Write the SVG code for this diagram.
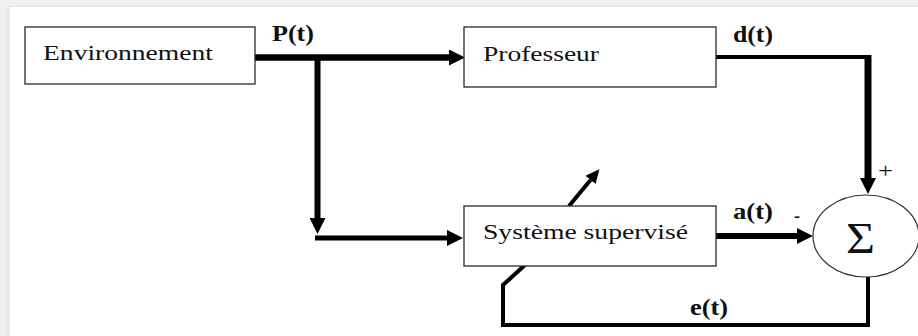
<svg xmlns="http://www.w3.org/2000/svg" width="918" height="336" viewBox="0 0 918 336">
  <style>
    .box { fill: #ffffff; stroke: #2a2a2a; stroke-width: 1.3; }
    .lbl { font-family: "Liberation Serif", "Times New Roman", serif; font-size: 22px; fill: #111; }
    .sig { font-family: "Liberation Serif", "Times New Roman", serif; font-weight: bold; font-size: 23px; fill: #111; }
    .wire { fill: none; stroke: #000; stroke-linejoin: miter; }
  </style>
  <defs>
    <marker id="ah" viewBox="0 -8 16 16" refX="0" refY="0" markerWidth="16" markerHeight="16" markerUnits="userSpaceOnUse" orient="auto">
      <path d="M0,-8 L16,0 L0,8 Z" fill="#000"/>
    </marker>
    <marker id="ahs" viewBox="0 -6.5 14 13" refX="0" refY="0" markerWidth="14" markerHeight="13" markerUnits="userSpaceOnUse" orient="auto">
      <path d="M0,-6.5 L14,0 L0,6.5 Z" fill="#000"/>
    </marker>
  </defs>

  <rect x="0" y="0" width="918" height="336" fill="#f0f0f0"/>
  <rect x="7" y="5" width="911" height="331" fill="#e8e8e8"/>
  <rect x="10" y="7" width="908" height="329" fill="#ffffff"/>

  <g id="connectors">
    <line class="wire" x1="255" y1="57.5" x2="449" y2="57.5" stroke-width="6.5" marker-end="url(#ah)"/>
    <line class="wire" x1="317.5" y1="55" x2="317.5" y2="218" stroke-width="6" marker-end="url(#ah)"/>
    <line class="wire" x1="315" y1="238" x2="447" y2="238" stroke-width="5" marker-end="url(#ah)"/>
    <polyline class="wire" points="716,57 868,57" stroke-width="4"/>
    <line class="wire" x1="868" y1="55" x2="868" y2="178" stroke-width="7" marker-end="url(#ah)"/>
    <line class="wire" x1="716" y1="236" x2="797" y2="236" stroke-width="6" marker-end="url(#ah)"/>
    <polyline class="wire" points="868,277 868,325 503,325 503,285 526,264" stroke-width="4"/>
    <line class="wire" x1="569" y1="206" x2="590.5" y2="180" stroke-width="4" marker-end="url(#ahs)"/>
  </g>

  <g id="environnement">
    <rect class="box" x="25" y="27" width="230" height="57"/>
    <text class="lbl" x="43" y="60" textLength="170" lengthAdjust="spacingAndGlyphs">Environnement</text>
  </g>

  <g id="professeur">
    <rect class="box" x="464" y="27" width="252" height="60"/>
    <text class="lbl" x="483" y="61" textLength="116" lengthAdjust="spacingAndGlyphs">Professeur</text>
  </g>

  <g id="systeme">
    <rect class="box" x="464" y="206" width="252" height="60"/>
    <text class="lbl" x="483" y="239" textLength="205" lengthAdjust="spacingAndGlyphs">Système supervisé</text>
  </g>

  <g id="sommateur">
    <ellipse cx="866" cy="236" rx="53" ry="41" fill="#ffffff" stroke="#333" stroke-width="1.2"/>
    <text x="846" y="253" font-family="Liberation Serif, Times New Roman, serif" font-size="44" fill="#111" textLength="29" lengthAdjust="spacingAndGlyphs">Σ</text>
  </g>

  <g id="labels">
    <text class="sig" x="272" y="41" textLength="42" lengthAdjust="spacingAndGlyphs">P(t)</text>
    <text class="sig" x="733" y="42" textLength="40" lengthAdjust="spacingAndGlyphs">d(t)</text>
    <text class="sig" x="733" y="219" textLength="40" lengthAdjust="spacingAndGlyphs">a(t)</text>
    <text class="sig" x="690" y="315" textLength="38" lengthAdjust="spacingAndGlyphs">e(t)</text>
    <text class="lbl" x="878" y="178" font-size="20" textLength="15" lengthAdjust="spacingAndGlyphs">+</text>
    <text class="lbl" x="794" y="222" font-size="20" textLength="6" lengthAdjust="spacingAndGlyphs">-</text>
  </g>
</svg>
